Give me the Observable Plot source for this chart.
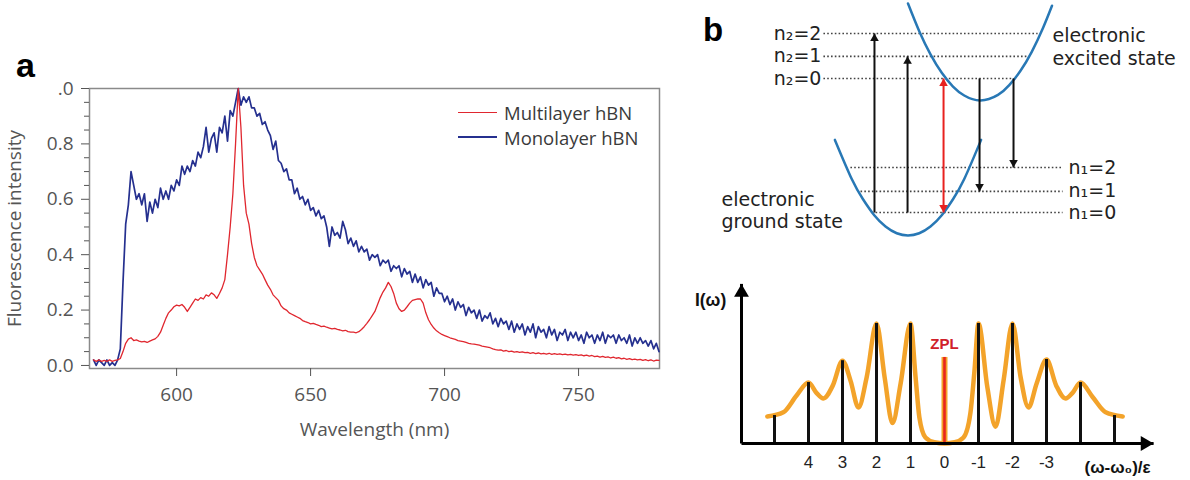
<!DOCTYPE html>
<html><head><meta charset="utf-8">
<script src="https://cdn.jsdelivr.net/npm/d3@7"></script>
<script src="https://cdn.jsdelivr.net/npm/@observablehq/plot@0.6"></script>
<style>
html,body{margin:0;padding:0;background:#fff;}
body{width:1190px;height:480px;overflow:hidden;position:relative;}
.abs{position:absolute;}
.letter{font-family:"Liberation Sans",Arial,sans-serif;font-weight:bold;color:#000;line-height:1;}
.leg{font-family:"Open Sans",sans-serif;font-size:18.5px;color:#3a3a3a;display:flex;align-items:center;height:22px;}
.leg span.l{display:inline-block;width:39px;margin-right:7px;}
</style></head><body>
<div id="pa" class="abs" style="left:0;top:0"></div>
<div id="pb1" class="abs" style="left:690px;top:0"></div>
<div id="pb2" class="abs" style="left:690px;top:250px"></div>
<div class="abs letter" style="left:16px;top:48px;font-size:34px;">a</div>
<div class="abs letter" style="left:703px;top:13px;font-size:33px;">b</div>
<div class="abs leg" style="left:458px;top:101px;"><span class="l" style="border-top:1.5px solid #e0272f;"></span>Multilayer hBN</div>
<div class="abs leg" style="left:458px;top:126px;"><span class="l" style="border-top:2.5px solid #25308f;"></span>Monolayer hBN</div>
<script>
// ---------- Panel a: fluorescence spectra ----------
const wavelength = [
569,570,571,572,573,574,575,576,577,578,
579,580,581,582,583,584,585,586,587,588,
589,590,591,592,593,594,595,596,597,598,
599,600,601,602,603,604,605,606,607,608,
609,610,611,612,613,614,615,616,617,618,
619,620,621,622,623,624,625,626,627,628,
629,630,631,632,633,634,635,636,637,638,
639,640,641,642,643,644,645,646,647,648,
649,650,651,652,653,654,655,656,657,658,
659,660,661,662,663,664,665,666,667,668,
669,670,671,672,673,674,675,676,677,678,
679,680,681,682,683,684,685,686,687,688,
689,690,691,692,693,694,695,696,697,698,
699,700,701,702,703,704,705,706,707,708,
709,710,711,712,713,714,715,716,717,718,
719,720,721,722,723,724,725,726,727,728,
729,730,731,732,733,734,735,736,737,738,
739,740,741,742,743,744,745,746,747,748,
749,750,751,752,753,754,755,756,757,758,
759,760,761,762,763,764,765,766,767,768,
769,770,771,772,773,774,775,776,777,778,
779,780];
const monolayer = [
0.02,0.00,0.02,0.01,0.00,0.02,0.00,0.01,0.00,0.02,
0.06,0.30,0.51,0.58,0.70,0.65,0.60,0.62,0.58,0.62,
0.52,0.59,0.55,0.60,0.57,0.64,0.60,0.63,0.60,0.65,
0.63,0.67,0.65,0.72,0.69,0.72,0.70,0.74,0.72,0.77,
0.75,0.79,0.86,0.77,0.82,0.84,0.77,0.86,0.84,0.90,
0.81,0.92,0.90,0.95,1.00,0.94,0.97,0.95,0.97,0.93,
0.93,0.90,0.91,0.87,0.88,0.85,0.83,0.78,0.81,0.74,
0.73,0.70,0.71,0.67,0.67,0.62,0.64,0.60,0.61,0.58,
0.60,0.56,0.57,0.54,0.56,0.53,0.54,0.50,0.43,0.50,
0.47,0.48,0.46,0.52,0.49,0.44,0.46,0.43,0.45,0.41,
0.43,0.41,0.42,0.38,0.40,0.39,0.40,0.36,0.38,0.37,
0.38,0.34,0.36,0.35,0.36,0.32,0.35,0.33,0.34,0.30,
0.33,0.30,0.32,0.28,0.31,0.29,0.30,0.25,0.28,0.26,
0.26,0.23,0.25,0.22,0.24,0.20,0.23,0.21,0.22,0.18,
0.21,0.19,0.20,0.17,0.20,0.16,0.18,0.17,0.19,0.15,
0.17,0.14,0.17,0.15,0.16,0.13,0.16,0.12,0.15,0.13,
0.15,0.11,0.14,0.12,0.15,0.10,0.14,0.12,0.13,0.10,
0.14,0.11,0.13,0.09,0.12,0.11,0.13,0.09,0.12,0.10,
0.12,0.09,0.11,0.08,0.12,0.10,0.11,0.08,0.11,0.09,
0.12,0.08,0.11,0.10,0.11,0.08,0.11,0.09,0.10,0.08,
0.11,0.07,0.10,0.08,0.10,0.08,0.09,0.07,0.09,0.06,
0.08,0.05];
const multilayer = [
0.020,0.015,0.020,0.015,0.018,0.015,0.020,0.015,0.018,0.020,
0.025,0.050,0.080,0.095,0.100,0.090,0.092,0.088,0.085,0.087,
0.083,0.088,0.092,0.096,0.105,0.120,0.145,0.170,0.190,0.200,
0.212,0.218,0.215,0.220,0.210,0.195,0.210,0.225,0.240,0.235,
0.245,0.240,0.255,0.250,0.262,0.255,0.242,0.260,0.280,0.310,
0.400,0.500,0.620,0.800,1.000,0.860,0.650,0.550,0.510,0.440,
0.390,0.360,0.345,0.330,0.310,0.290,0.275,0.255,0.245,0.235,
0.215,0.205,0.200,0.190,0.185,0.180,0.175,0.170,0.162,0.158,
0.155,0.150,0.152,0.148,0.145,0.140,0.142,0.138,0.135,0.132,
0.134,0.130,0.128,0.125,0.127,0.122,0.120,0.120,0.118,0.122,
0.130,0.140,0.152,0.165,0.180,0.195,0.220,0.245,0.265,0.280,
0.300,0.285,0.260,0.225,0.205,0.195,0.200,0.212,0.225,0.235,
0.238,0.240,0.240,0.225,0.190,0.165,0.148,0.135,0.125,0.118,
0.112,0.108,0.104,0.100,0.097,0.094,0.090,0.088,0.086,0.083,
0.080,0.078,0.077,0.075,0.073,0.070,0.068,0.066,0.064,0.060,
0.057,0.055,0.056,0.052,0.054,0.050,0.052,0.048,0.050,0.047,
0.049,0.046,0.047,0.044,0.046,0.043,0.045,0.042,0.044,0.041,
0.044,0.040,0.043,0.040,0.042,0.039,0.041,0.038,0.040,0.037,
0.039,0.036,0.038,0.035,0.037,0.034,0.036,0.032,0.034,0.030,
0.033,0.029,0.031,0.027,0.030,0.026,0.028,0.024,0.026,0.022,
0.025,0.021,0.023,0.020,0.022,0.018,0.021,0.017,0.020,0.016,
0.019,0.018];
const yMajorTicks = [0, 0.2, 0.4, 0.6, 0.8, 1.0];
const yMinorTicks = [0.05,0.1,0.15,0.25,0.3,0.35,0.45,0.5,0.55,0.65,0.7,0.75,0.85,0.9,0.95];
const xTicks = [600, 650, 700, 750];

const spectra = wavelength.map((w, i) => ({w, mono: monolayer[i], multi: multilayer[i]}));

const plotA = Plot.plot({
  width: 690, height: 480,
  marginLeft: 89, marginRight: 31, marginTop: 88, marginBottom: 112,
  x: {domain: [567.5, 780.2]},
  y: {domain: [-0.011, 1.0]},
  style: {fontFamily: "'Open Sans', sans-serif", fontSize: "19px", color: "#555", background: "transparent"},
  marks: [
    Plot.frame({stroke: "#8a8a8a", strokeWidth: 1.5}),
    Plot.axisY({ticks: yMinorTicks, tickSize: 5, tickFormat: () => "", label: null}),
    Plot.axisY({ticks: yMajorTicks, tickSize: 8, tickPadding: 8,
      tickFormat: d => d === 1 ? ".0" : d.toFixed(1),
      label: "Fluorescence intensity", labelAnchor: "center", labelOffset: 82, labelArrow: "none"}),
    Plot.axisX({ticks: xTicks, tickSize: 8, tickPadding: 11,
      label: "Wavelength (nm)", labelAnchor: "center", labelOffset: 67, labelArrow: "none"}),
    Plot.line(spectra, {x: "w", y: "mono", stroke: "#25308f", strokeWidth: 1.7}),
    Plot.line(spectra, {x: "w", y: "multi", stroke: "#e0272f", strokeWidth: 1.3})
  ]
});
document.getElementById("pa").appendChild(plotA);

// ---------- Panel b (top): configuration-coordinate diagram ----------
const groundQ = [-3.25,-2.5,-2,-1.5,-1,-0.5,0,0.5,1,1.5,2,2.5,3.25];
const groundE = [4.25,2.51,1.61,0.90,0.40,0.10,0,0.10,0.40,0.90,1.61,2.51,4.25];
const excitedQ = [0,0.5,1,1.5,2,2.5,3.22,4,4.5,5,5.5,6,6.4];
const excitedE = [10.31,9.08,8.05,7.23,6.62,6.22,6.0,6.25,6.68,7.32,8.16,9.22,10.21];
const levelNames = ["n\u2081=0","n\u2081=1","n\u2081=2","n\u2082=0","n\u2082=1","n\u2082=2"];
const levelEnergy = [1.02,1.96,3.02,6.98,7.96,8.98];
const levelFromQ = [-1.44,-2.11,-2.56,-3.76,-3.76,-3.76];
const levelToQ = [6.87,6.87,6.87,4.69,5.31,5.76];
const transQ = [-1.49,-0.02,1.58,3.18,4.69];
const transFrom = [1.02,1.02,1.02,6.98,6.98];
const transTo = [8.98,7.96,6.98,1.96,3.02];
const transKind = ["absorption","absorption","zero-phonon","emission","emission"];
const stateNames = ["electronic\nexcited state","electronic\nground state"];
const stateQ = [6.42,-8.29];
const stateE = [8.4,1.13];

const ground = groundQ.map((q,i)=>({q, E: groundE[i]}));
const excited = excitedQ.map((q,i)=>({q, E: excitedE[i]}));
const levels = levelNames.map((name,i)=>({name, E: levelEnergy[i], q1: levelFromQ[i], q2: levelToQ[i], upper: name.includes("\u2082")}));
const trans = transQ.map((q,i)=>({q, from: transFrom[i], to: transTo[i], kind: transKind[i]}));
const heads = [];
trans.forEach(t => {
  heads.push({q: t.q, E: t.to, up: t.to > t.from, red: t.kind === "zero-phonon"});
  if (t.kind === "zero-phonon") heads.push({q: t.q, E: t.from, up: t.from > t.to, red: true});
});
const hr = 3.2, tipOff = 2 * hr * Math.sqrt(Math.PI / (3 * Math.sqrt(3)));
const states = stateNames.map((s,i)=>({s, q: stateQ[i], E: stateE[i]}));

const plotB1 = Plot.plot({
  width: 500, height: 250, margin: 0,
  x: {domain: [-9.667, 12.556], axis: null},
  y: {domain: [-0.667, 10.444], axis: null},
  style: {fontFamily: "'DejaVu Sans', sans-serif", fontSize: "19px", color: "#222", background: "transparent"},
  marks: [
    Plot.link(levels, {x1: "q1", x2: "q2", y1: "E", y2: "E", stroke: "#444", strokeWidth: 1.6, strokeDasharray: "1.6,2.2"}),
    Plot.line(ground, {x: "q", y: "E", curve: "natural", stroke: "#2878b5", strokeWidth: 2.5}),
    Plot.line(excited, {x: "q", y: "E", curve: "natural", stroke: "#2878b5", strokeWidth: 2.5}),
    Plot.link(trans.filter(t => t.kind !== "zero-phonon"), {x1: "q", x2: "q", y1: "from", y2: "to", stroke: "#111", strokeWidth: 2}),
    Plot.link(trans.filter(t => t.kind === "zero-phonon"), {x1: "q", x2: "q", y1: "from", y2: "to", stroke: "#e8211f", strokeWidth: 2}),
    Plot.dot(heads.filter(h => h.up && !h.red), {x: "q", y: "E", symbol: "triangle", r: hr, fill: "#111", dy: tipOff}),
    Plot.dot(heads.filter(h => !h.up && !h.red), {x: "q", y: "E", symbol: "triangle", r: hr, fill: "#111", rotate: 180, dy: -tipOff}),
    Plot.dot(heads.filter(h => h.up && h.red), {x: "q", y: "E", symbol: "triangle", r: hr, fill: "#e8211f", dy: tipOff}),
    Plot.dot(heads.filter(h => !h.up && h.red), {x: "q", y: "E", symbol: "triangle", r: hr, fill: "#e8211f", rotate: 180, dy: -tipOff}),
    Plot.text(levels.filter(d => d.upper), {x: "q1", y: "E", text: "name", textAnchor: "end", dx: -2, fill: "#222"}),
    Plot.text(levels.filter(d => !d.upper), {x: "q2", y: "E", text: "name", textAnchor: "start", dx: 6, fill: "#222"}),
    Plot.text(states, {x: "q", y: "E", text: "s", textAnchor: "start", lineHeight: 1.17, fill: "#222"})
  ]
});
document.getElementById("pb1").appendChild(plotB1);

// ---------- Panel b (bottom): phonon sideband spectrum ----------
const phononN = [5,4,3,2,1,-1,-2,-3,-4,-5];
const phononI = [0.233,0.508,0.69,1,1,1,1,0.70,0.508,0.233];
const zplI = 0.717;
const sbK = [5.21,4.74,4.35,4.0,3.76,3.56,3.29,3.0,2.76,2.53,2.29,2.0,1.76,1.53,1.29,1.0,0.85,0.74,0.56,0.30,0.0,
             -0.30,-0.56,-0.76,-0.88,-1.0,-1.26,-1.5,-1.74,-2.0,-2.24,-2.47,-2.71,-3.0,-3.29,-3.56,-3.76,-4.0,-4.35,-4.74,-5.24];
const sbI = [0.225,0.26,0.40,0.508,0.42,0.375,0.48,0.69,0.52,0.30,0.55,1.0,0.55,0.17,0.50,1.0,0.55,0.22,0.05,0.01,0.0,
             0.01,0.05,0.25,0.60,1.0,0.47,0.14,0.53,1.0,0.55,0.30,0.50,0.70,0.48,0.375,0.42,0.508,0.39,0.26,0.225];
const tickN = [4,3,2,1,0,-1,-2,-3];
const axisOrigin = 5.97, axisEnd = -6.15, axisTop = 1.33;

const sticks = phononN.map((k,i)=>({k, I: phononI[i]}));
const sideband = sbK.map((k,i)=>({k, I: sbI[i]}));
const bigR = 5.5, bigOff = 2 * bigR * Math.sqrt(Math.PI / (3 * Math.sqrt(3)));

const plotB2 = Plot.plot({
  width: 500, height: 230, margin: 0,
  x: {domain: [7.47, -7.235], axis: null},
  y: {domain: [-0.3083, 1.6083], axis: null},
  style: {fontFamily: "'Liberation Sans', Arial, sans-serif", fontSize: "16.5px", color: "#222", background: "transparent"},
  marks: [
    Plot.line(sideband, {x: "k", y: "I", curve: "monotone-x", stroke: "#f3a32a", strokeWidth: 4.5}),
    Plot.ruleX(sticks, {x: "k", y1: 0, y2: "I", stroke: "#111", strokeWidth: 3}),
    Plot.ruleX([zplI], {x: 0, y1: 0, y2: d => d, stroke: "#f3a32a", strokeWidth: 6}),
    Plot.ruleX([zplI], {x: 0, y1: 0, y2: d => d, stroke: "#e8261c", strokeWidth: 2.6}),
    Plot.link([0], {x1: axisOrigin, x2: axisEnd, y1: 0, y2: 0, stroke: "#000", strokeWidth: 3}),
    Plot.link([0], {x1: axisOrigin, x2: axisOrigin, y1: 0, y2: axisTop, stroke: "#000", strokeWidth: 3}),
    Plot.dot([0], {x: axisEnd, y: 0, symbol: "triangle", r: bigR, fill: "#000", rotate: 90, dx: -bigOff}),
    Plot.dot([0], {x: axisOrigin, y: axisTop, symbol: "triangle", r: bigR, fill: "#000", dy: bigOff}),
    Plot.text(tickN, {x: d => d, y: -0.16, text: d => String(d), fill: "#222", fontSize: 17}),
    Plot.text(["ZPL"], {x: 0, y: 0.83, text: d => d, fill: "#d0202a", fontWeight: "bold", fontSize: 15}),
    Plot.text(["I(\u03c9)"], {x: 6.88, y: 1.19, text: d => d, fontWeight: "bold", fontSize: 17.5, fill: "#111"}),
    Plot.text(["(\u03c9-\u03c9\u2080)/\u03b5"], {x: -5.09, y: -0.2, text: d => d, fontWeight: "bold", fontSize: 17, fill: "#111"})
  ]
});
document.getElementById("pb2").appendChild(plotB2);
</script>
</body></html>
